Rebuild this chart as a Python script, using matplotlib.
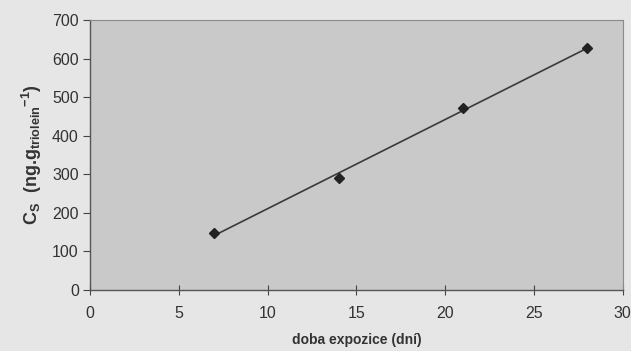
import numpy as np
import matplotlib.pyplot as plt

days = [7, 14, 21, 28]
cs = [148, 290, 472, 627]
xticks = [0, 5, 10, 15, 20, 25, 30]
yticks = [0, 100, 200, 300, 400, 500, 600, 700]

plt.rcParams['font.family'] = ['Liberation Sans', 'DejaVu Sans']
plt.rcParams['mathtext.fontset'] = 'custom'
plt.rcParams['mathtext.rm'] = 'Liberation Sans'
plt.rcParams['mathtext.bf'] = 'Liberation Sans:bold'

fig = plt.figure(figsize=(6.31, 3.51), dpi=100, facecolor='#e6e6e6')
ax = fig.add_axes([0.1426, 0.1738, 0.8444, 0.7692])
ax.set_facecolor('#c9c9c9')

coef = np.polyfit(days, cs, 1)
xf = np.array([min(days), max(days)])
ax.plot(xf, np.polyval(coef, xf), color='#3a3a3a', lw=1.2, zorder=2)
ax.plot(days, cs, linestyle='none', marker='D', ms=5.5, color='#222222', zorder=3)

ax.set_xlim(0, 30)
ax.set_ylim(0, 700)
ax.set_xticks(xticks)
ax.set_yticks(yticks)
ax.tick_params(axis='x', direction='inout', length=7, colors='#444444', labelcolor='#333333', labelsize=11.5, pad=8)
ax.tick_params(axis='y', direction='out', length=5, colors='#444444', labelcolor='#333333', labelsize=11.5, pad=3)

for s in ['left', 'bottom']:
    ax.spines[s].set_color('#555555')
    ax.spines[s].set_linewidth(1.0)
for s in ['top', 'right']:
    ax.spines[s].set_color('#8a8a8a')
    ax.spines[s].set_linewidth(0.8)

ax.set_xlabel('doba expozice (dní)', fontsize=10, fontweight='bold', color='#333333', labelpad=9)
ax.set_ylabel(r'$\mathbf{C_S}$  (ng.g$_{\mathbf{triolein}}$$^{\mathbf{-1}}$)', fontsize=13, fontweight='bold', color='#333333', labelpad=6)

fig.savefig('out.png', dpi=100, facecolor=fig.get_facecolor())
